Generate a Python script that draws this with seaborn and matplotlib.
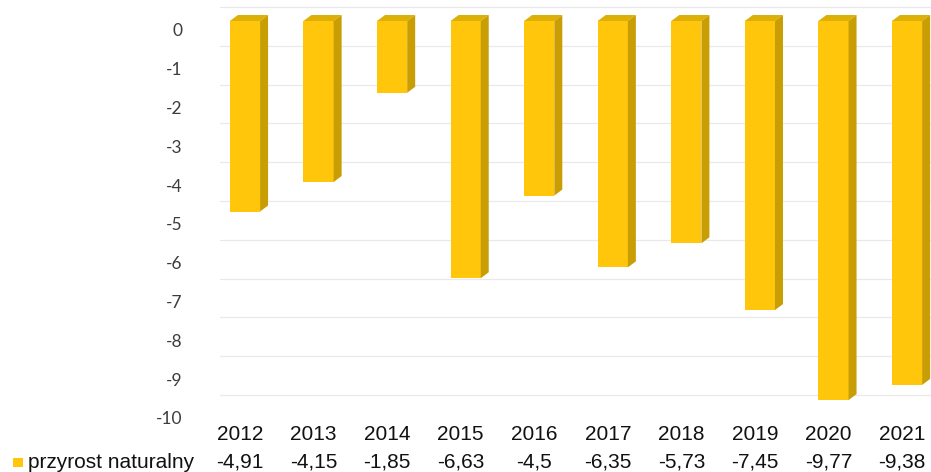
import matplotlib
matplotlib.use("Agg")
import matplotlib.pyplot as plt
import seaborn as sns
import pandas as pd
from matplotlib.transforms import ScaledTranslation, blended_transform_factory, IdentityTransform
from matplotlib.patches import Polygon, Rectangle

# ---- data ----
years = ["2012", "2013", "2014", "2015", "2016", "2017", "2018", "2019", "2020", "2021"]
values = [-4.91, -4.15, -1.85, -6.63, -4.5, -6.35, -5.73, -7.45, -9.77, -9.38]
series_name = "przyrost naturalny"
yticks = [0, -1, -2, -3, -4, -5, -6, -7, -8, -9, -10]
ytick_labels = ["0", "-1", "-2", "-3", "-4", "-5", "-6", "-7", "-8", "-9", "-10"]
value_labels = [f"{v:g}".replace(".", ",") for v in values]

# ---- style ----
FRONT = "#FFC60B"
SIDE = "#C99E05"
TOP = "#DDB007"
TICK_COL = "#3c3c3c"
TXT_COL = "#111111"

sns.set_style("white")
plt.rcParams["font.family"] = ["Liberation Sans", "DejaVu Sans"]

W, H = 931, 472
DPI = 100
fig = plt.figure(figsize=(W / DPI, H / DPI), dpi=DPI)

ax_left, ax_right = 208.2, 931.0
zero_px, unit_px = 30.0, 38.8
ytop, ybot = 0.75, -10.5
top_px = zero_px - ytop * unit_px
bot_px = zero_px - ybot * unit_px
ax = fig.add_axes([ax_left / W, (H - bot_px) / H, (ax_right - ax_left) / W, (bot_px - top_px) / H])

df = pd.DataFrame({"rok": years, "wartosc": values})
sns.barplot(data=df, x="rok", y="wartosc", ax=ax, color=FRONT, saturation=1,
            width=0.41, errorbar=None, edgecolor="none", zorder=3)

spacing = 73.56
ax.set_xlim(-0.5, -0.5 + (ax_right - ax_left) / spacing)
ax.set_ylim(ybot, ytop)
ax.set_xlabel("")
ax.set_ylabel("")
ax.set_xticks([])
ax.set_yticks(yticks)
ax.set_yticklabels(ytick_labels, family=["Lato", "DejaVu Sans"])
ax.tick_params(axis="y", length=0, pad=18.5, labelsize=12.5, labelcolor=TICK_COL)
for s in ax.spines.values():
    s.set_visible(False)

# back-wall gridlines (shifted up like the 3D original)
grid_tr = blended_transform_factory(ax.transAxes, ax.transData) + \
    ScaledTranslation(0, 23 / DPI, fig.dpi_scale_trans)
gx0 = (220 - ax_left) / (ax_right - ax_left)
for t in yticks:
    ax.plot([gx0, 1.0], [t, t], transform=grid_tr, color="#e9e9e9", lw=0.9, zorder=1, clip_on=False)

# 3D bars: shift front faces, add side and top faces
shift = ScaledTranslation(0, 9 / DPI, fig.dpi_scale_trans)
dx, dy = 8, 6
bar_tr = ax.transData + shift
for p in ax.patches:
    p.set_transform(bar_tr)
    p.set_clip_on(False)
    x0 = p.get_x()
    w = p.get_width()
    h = p.get_height()
    (xl, yt), (xr, yb) = bar_tr.transform([[x0, 0], [x0 + w, h]])
    top = Polygon([[xl, yt], [xr, yt], [xr + dx, yt + dy], [xl + dx, yt + dy]],
                  closed=True, facecolor=TOP, edgecolor="none", transform=IdentityTransform(),
                  zorder=3, clip_on=False)
    side = Polygon([[xr, yt], [xr + dx, yt + dy], [xr + dx, yb + dy], [xr, yb]],
                   closed=True, facecolor=SIDE, edgecolor="none", transform=IdentityTransform(),
                   zorder=3, clip_on=False)
    ax.add_patch(top)
    ax.add_patch(side)

# data table below
row_tr = blended_transform_factory(ax.transData, fig.transFigure) + \
    ScaledTranslation(-5 / DPI, 0, fig.dpi_scale_trans)
for i, (yr, lab) in enumerate(zip(years, value_labels)):
    ax.text(i, (H - 435) / H, yr, transform=row_tr, ha="center", va="center",
            fontsize=15, color=TXT_COL, clip_on=False)
    ax.text(i, (H - 462) / H, lab, transform=row_tr, ha="center", va="center",
            fontsize=15, color=TXT_COL, clip_on=False)

fig.text(28 / W, (H - 462) / H, series_name, ha="left", va="center", fontsize=15, color=TXT_COL)
fig.add_artist(Rectangle((13 / W, (H - 467) / H), 10 / W, 9 / H, transform=fig.transFigure,
                         facecolor=FRONT, edgecolor="none"))

fig.savefig("out.png", dpi=DPI)
